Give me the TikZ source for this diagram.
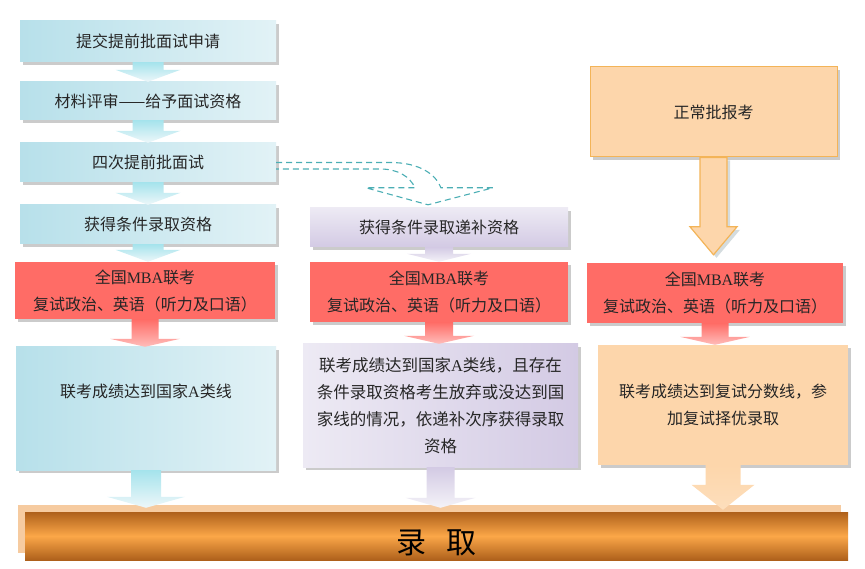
\documentclass[tikz,border=0pt]{standalone}
\usepackage{fontspec}
\setmainfont{Liberation Serif}
\newfontfamily\cjk{Noto Sans CJK SC}
\usetikzlibrary{calc,shadows}

\definecolor{boxblue}{HTML}{B7E0EA}
\definecolor{boxbluelt}{HTML}{E2F2F6}
\definecolor{boxred}{HTML}{FF6C66}
\definecolor{boxpurple}{HTML}{D3CAE4}
\definecolor{boxpurplelt}{HTML}{EDEAF4}
\definecolor{boxorange}{HTML}{FDD6AB}
\definecolor{edgeorange}{HTML}{F3B458}
\definecolor{bardark}{HTML}{AE601B}
\definecolor{barlight}{HTML}{FBA748}
\definecolor{barshade}{HTML}{F6CBA0}
\definecolor{dashteal}{HTML}{4BAEB4}
\definecolor{inkgrey}{HTML}{262626}

% block arrow: style, from, to, shaft half width, head half width, head length, gap
\newcommand{\flowarrow}[7]{%
  \path (#2.south |- #3.north) coordinate (tipb);
  \path ($(tipb)+(0,-#7)$) coordinate (tip);
  \path[#1] ($(#2.south)+(-#4,0)$) -- ($(tip)+(-#4,-#6)$) -- ($(tip)+(-#5,-#6)$)
    -- (tip) -- ($(tip)+(#5,-#6)$) -- ($(tip)+(#4,-#6)$) -- ($(#2.south)+(#4,0)$) -- cycle;
}

\begin{document}
\begin{tikzpicture}[x=1pt, y=-1pt,
    lbl/.style={inner sep=0pt, align=center, text=inkgrey,
      font=\cjk\fontsize{16}{27}\selectfont},
    box/.style={lbl,
      drop shadow={shadow xshift=3pt, shadow yshift=-3pt, fill=black!45, opacity=.45}},
    bluebox/.style={box, left color=boxblue, right color=boxbluelt},
    redbox/.style={box, fill=boxred},
    purplebox/.style={box, top color=boxpurplelt, bottom color=boxpurple},
    orangebox/.style={box, fill=boxorange, draw=edgeorange, line width=1pt},
    arrblue/.style={top color=boxblue!90!cyan, bottom color=boxbluelt!60},
    arrred/.style={top color=boxred, bottom color=boxred!45},
    arrpurple/.style={top color=boxpurple, bottom color=boxpurplelt!60},
    arrorange/.style={top color=boxorange, bottom color=boxorange!80!white},
    bigorange/.style={fill=boxorange, draw=edgeorange, line width=1.2pt,
      drop shadow={shadow xshift=3pt, shadow yshift=-3pt, fill=cyan!30!black!40, opacity=.5}},
    dashconn/.style={draw=dashteal, dashed, line width=1.1pt, dash pattern=on 6pt off 4pt},
    bar/.style={inner sep=0pt, top color=bardark, bottom color=bardark, middle color=barlight,
      general shadow={shadow xshift=-7pt, shadow yshift=7pt, fill=barshade}}]

  \useasboundingbox (0,0) rectangle (865,569);

  % left column
  \node[bluebox, minimum width=256pt, minimum height=41pt] (apply) at (148,41.5) {提交提前批面试申请};
  \node[bluebox, minimum width=256pt, minimum height=38pt] (review) at (148,101) {材料评审——给予面试资格};
  \node[bluebox, minimum width=256pt, minimum height=39pt] (interview) at (148,162.5) {四次提前批面试};
  \node[bluebox, minimum width=256pt, minimum height=39pt] (cond) at (148,224.5) {获得条件录取资格};
  \node[redbox, minimum width=260pt, minimum height=57pt] (examL) at (145,290.5)
    {全国\textrm{MBA}联考\\复试政治、英语（听力及口语）};
  \node[bluebox, minimum width=260pt, minimum height=123pt] (resultL) at (146,408.5) {};
  \node[lbl] (resultLtxt) at ($(resultL.center)+(0,-17)$) {联考成绩达到国家\textrm{A}类线};

  % middle column
  \node[purplebox, minimum width=258pt, minimum height=39pt] (condSub) at (439,227.5) {获得条件录取递补资格};
  \node[redbox, minimum width=258pt, minimum height=60pt] (examM) at (439,292)
    {全国\textrm{MBA}联考\\复试政治、英语（听力及口语）};
  \node[box, left color=boxpurplelt, right color=boxpurple, minimum width=275pt, minimum height=123pt,
    font=\cjk\fontsize{16.5}{27}\selectfont] (resultM) at (440.5,405.5)
    {联考成绩达到国家\textrm{A}类线，且存在\\条件录取资格考生放弃或没达到国\\家线的情况，依递补次序获得录取\\资格};

  % right column
  \node[orangebox, minimum width=247pt, minimum height=90pt] (normal) at (713.5,112) {正常批报考};
  \node[redbox, minimum width=256pt, minimum height=60pt] (examR) at (715,293)
    {全国\textrm{MBA}联考\\复试政治、英语（听力及口语）};
  \node[box, fill=boxorange, minimum width=250pt, minimum height=120pt] (resultR) at (723,405)
    {联考成绩达到复试分数线，参\\加复试择优录取};

  % bottom bar
  \node[bar, minimum width=823pt, minimum height=48pt] (bar) at (436.5,536) {};
  \node[text=black, font=\cjk\fontsize{30}{30}\selectfont] (admit) at ($(bar.center)+(0,7)$) {录\hspace{.7em}取};

  % arrows
  \flowarrow{arrblue}{apply}{review}{15.5}{32.5}{12}{0}
  \flowarrow{arrblue}{review}{interview}{15.5}{32.5}{12}{0}
  \flowarrow{arrblue}{interview}{cond}{15.5}{32.5}{12}{0}
  \flowarrow{arrblue}{cond}{examL}{15.5}{32.5}{12}{0}
  \flowarrow{arrpurple}{condSub}{examM}{14}{32}{8}{0}
  \flowarrow{arrred}{examL}{resultL}{13.5}{35}{8}{0}
  \flowarrow{arrred}{examM}{resultM}{14}{35}{8}{0}
  \flowarrow{arrred}{examR}{resultR}{13.5}{35}{8}{0}
  \flowarrow{bigorange}{normal}{examR}{13.5}{23.5}{28}{8}
  \flowarrow{arrblue}{resultL}{bar}{15}{39}{11}{4}
  \flowarrow{arrpurple}{resultM}{bar}{14}{35}{10}{4}
  \flowarrow{arrorange}{resultR}{bar}{17.5}{31.5}{25}{2}

  % dashed curved arrow to the substitute box
  \coordinate (dtip) at ($(condSub.north)+(-11,-3)$);
  \draw[dashconn] (interview.east) -- ($(interview.east)+(114,0)$)
    .. controls ($(interview.east)+(144,0)$) and ($(dtip)+(8,-30)$) .. ($(dtip)+(13,-17)$)
    -- ($(dtip)+(65,-17)$) -- (dtip) -- ($(dtip)+(-62,-17)$) -- ($(dtip)+(-13,-17)$)
    .. controls ($(dtip)+(-18,-28)$) and ($(interview.east)+(122,6.5)$) .. ($(interview.east)+(104,6.5)$)
    -- ($(interview.east)+(0,6.5)$);
\end{tikzpicture}
\end{document}
